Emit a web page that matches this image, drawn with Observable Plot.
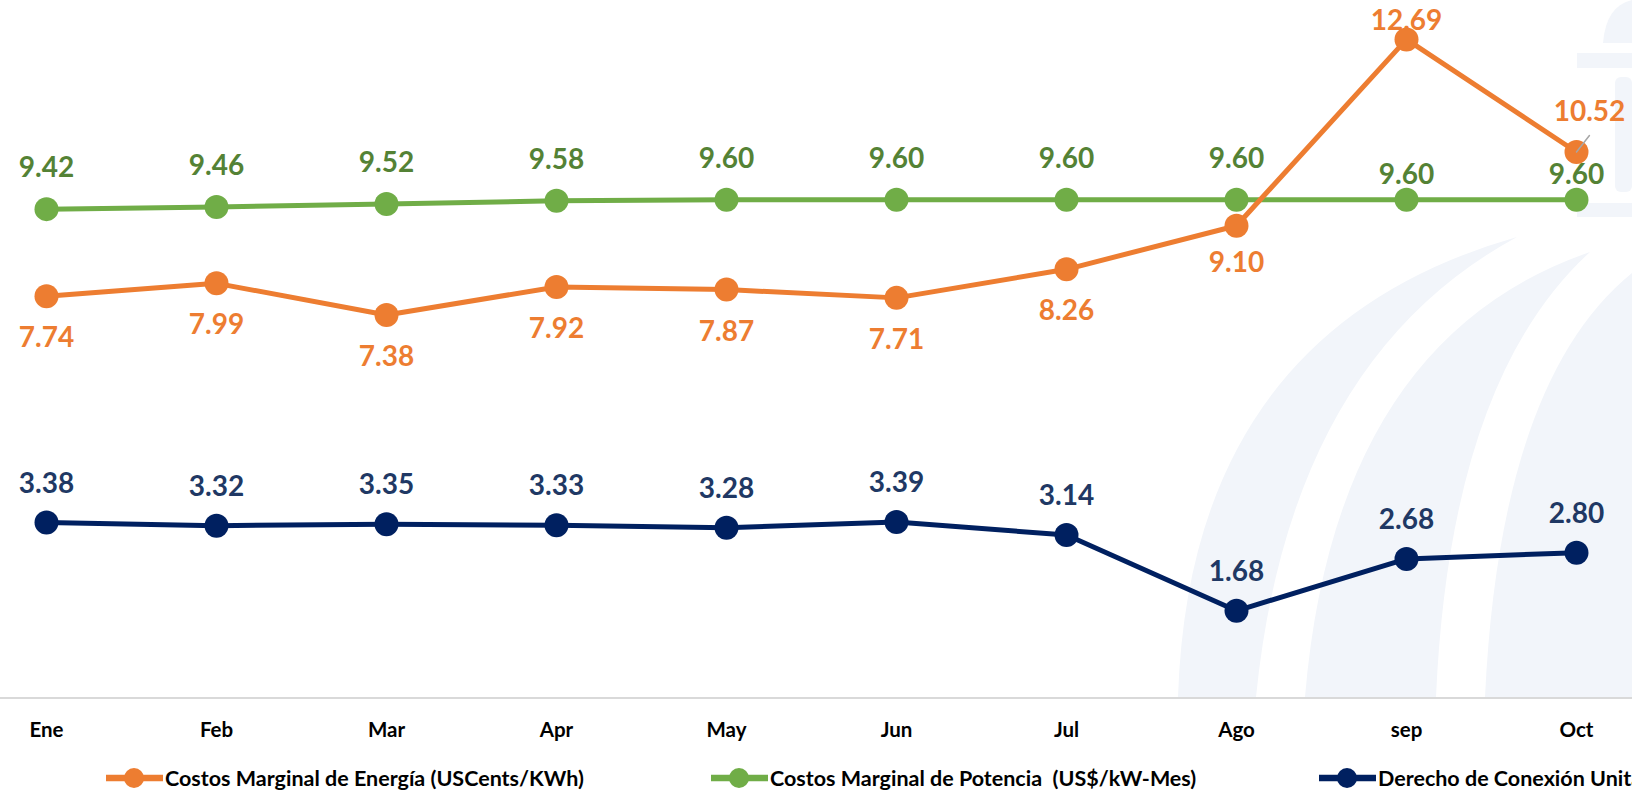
<!DOCTYPE html>
<html>
<head>
<meta charset="utf-8">
<script src="https://cdn.jsdelivr.net/npm/d3@7"></script>
<script src="https://cdn.jsdelivr.net/npm/@observablehq/plot@0.6"></script>
<style>
  html, body { margin: 0; padding: 0; background: #fff; overflow: hidden; }
  body { width: 1632px; height: 791px; position: relative; font-family: Lato, "Open Sans", sans-serif; }
  #wm { position: absolute; left: 0; top: 0; z-index: 0; }
  #chart { position: absolute; left: 0; top: 0; z-index: 1; }
  #legend { position: absolute; left: 0; top: 750px; width: 1632px; height: 56px; display: flex; align-items: center;
            padding-left: 106px; box-sizing: border-box; white-space: pre; overflow: hidden; font-weight: 700; font-size: 21.5px; color: #000; }
  .item { display: flex; align-items: center; flex: 0 0 auto; }
  .item svg { margin-right: 2px; }
</style>
</head>
<body>
<svg id="wm" width="1632" height="750">
  <g fill="#f2f5fa">
    <path d="M1178,697 Q1190,330 1517,237 Q1290,360 1256,697 Z"/>
    <path d="M1305,697 Q1335,340 1590,252 Q1450,380 1436,697 Z"/>
    <path d="M1485,697 Q1500,380 1632,273 L1632,697 Z"/>
    <rect x="1577" y="53" width="55" height="15"/>
    <rect x="1615" y="77" width="17" height="115" rx="6"/>
    <rect x="1577" y="203" width="55" height="14"/>
    <path d="M1603,43 Q1606,6 1632,0 L1632,43 Z"/>
  </g>
</svg>
<div id="chart"></div>
<div id="legend"></div>
<script>
// ---- data ----
const months = ["Ene", "Feb", "Mar", "Apr", "May", "Jun", "Jul", "Ago", "sep", "Oct"];
const energia = [7.74, 7.99, 7.38, 7.92, 7.87, 7.71, 8.26, 9.10, 12.69, 10.52];
const potencia = [9.42, 9.46, 9.52, 9.58, 9.60, 9.60, 9.60, 9.60, 9.60, 9.60];
const conexion = [3.38, 3.32, 3.35, 3.33, 3.28, 3.39, 3.14, 1.68, 2.68, 2.80];
const seriesNames = [
  "Costos Marginal de Energía (USCents/KWh)",
  "Costos Marginal de Potencia  (US$/kW-Mes)",
  "Derecho de Conexión Unitario (US$/kW-Mes)"
];

// ---- styles ----
const series = [
  {key: "potencia", values: potencia, name: seriesNames[1], line: "#70AD47", label: "#548235", dy: -41},
  {key: "energia", values: energia, name: seriesNames[0], line: "#ED7D31", label: "#ED7D31", dy: 42},
  {key: "conexion", values: conexion, name: seriesNames[2], line: "#002060", label: "#203864", dy: -39}
];
const overrides = {
  "potencia|sep": {dy: -25}, "potencia|Oct": {dy: -25},
  "energia|Ago": {dy: 37}, "energia|sep": {dy: -18}, "energia|Oct": {dy: -40, dx: 13}
};

const marks = [];
marks.push(Plot.ruleY([0], {stroke: "#d9d9d9", strokeWidth: 2, insetLeft: -45, insetRight: -56}));

for (const s of series) {
  const rows = months.map((m, i) => ({month: m, value: s.values[i], key: s.key}));
  marks.push(Plot.line(rows, {x: "month", y: "value", stroke: s.line, strokeWidth: 5}));
  marks.push(Plot.dot(rows, {x: "month", y: "value", r: 12, fill: s.line}));
}
const labelMarks = [];
for (const s of series) {
  const rows = months.map((m, i) => ({month: m, value: s.values[i], key: s.key}));
  const groups = d3.groups(rows, d => {
    const o = overrides[s.key + "|" + d.month] || {};
    return (o.dx ?? 0) + "," + (o.dy ?? s.dy);
  });
  for (const [k, g] of groups) {
    const [dx, dy] = k.split(",").map(Number);
    labelMarks.push(Plot.text(g, {x: "month", y: "value", text: d => d.value.toFixed(2), dx, dy,
      fill: s.label, fontSize: 28, fontWeight: "bold"}));
  }
}

const leader = Plot.vector([{month: "Oct", value: energia[9]}], {
  x: "month", y: "value", length: 21, rotate: 38, anchor: "start", stroke: "#a6a6a6", strokeWidth: 1.5,
  shape: {draw(context, l) { context.moveTo(0, 0); context.lineTo(0, -l); }}
});

function build(extra) {
  return Plot.plot({
    width: 1632,
    height: 750,
    marginTop: 0,
    marginBottom: 52.5,
    marginLeft: 45,
    marginRight: 56,
    style: {background: "transparent", fontFamily: "Lato, 'Open Sans', sans-serif"},
    x: {type: "point", domain: months, padding: 0, label: null},
    y: {domain: [0, 13.44], axis: null},
    marks: [
      ...marks,
      ...extra,
      ...labelMarks,
      Plot.axisX({tickSize: 0, tickPadding: 24, fontSize: 20.5, fontWeight: "bold", fill: "#000", label: null})
    ]
  });
}
let chart;
try { chart = build([leader]); } catch (e) { chart = build([]); }
chart.querySelectorAll("g[aria-label='x-axis tick label'] text, g[aria-label='x-axis tick label']").forEach(n => {
  n.setAttribute("font-weight", "bold"); n.setAttribute("font-size", "20.5");
});
document.getElementById("chart").append(chart);

// ---- legend ----
const legend = document.getElementById("legend");
const legendOrder = [series[1], series[0], series[2]];
const widths = [605, 608, 700];
legendOrder.forEach((s, i) => {
  const item = document.createElement("div");
  item.className = "item";
  item.style.width = widths[i] + "px";
  item.innerHTML = `<svg width="57" height="22"><line x1="0" x2="57" y1="11" y2="11" stroke="${s.line}" stroke-width="6.5" stroke-linecap="round"/><circle cx="28" cy="11" r="10" fill="${s.line}"/></svg><span>${s.name}</span>`;
  legend.append(item);
});
</script>
</body>
</html>
